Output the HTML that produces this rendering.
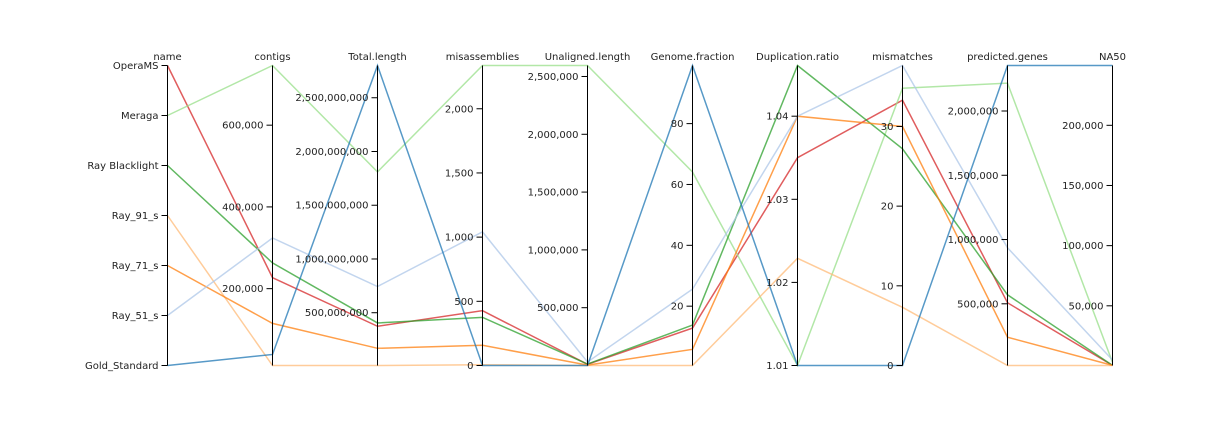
<!DOCTYPE html>
<html><head><meta charset="utf-8"><style>
body{margin:0;background:#fff;}
svg text{font-family:"DejaVu Sans","Liberation Sans",sans-serif;font-size:10px;fill:#222;}
</style></head><body>
<svg id="chart" width="1230" height="434" xmlns="http://www.w3.org/2000/svg"></svg>
<script>
const names = ["OperaMS","Meraga","Ray Blacklight","Ray_91_s","Ray_71_s","Ray_51_s","Gold_Standard"];
const dims = ["contigs","Total.length","misassemblies","Unaligned.length","Genome.fraction","Duplication.ratio","mismatches","predicted.genes","NA50"];
const contigs = [227000,746000,263000,12000,115000,324000,39000];
const totalLength = [374e6,1810e6,405e6,9e6,169e6,744e6,2800e6];
const misassemblies = [427,2337,375,6,158,1041,0];
const unaligned = [10000,2595000,12000,0,3000,30000,0];
const genomeFraction = [12.8,64.1,13.8,0.5,5.8,25.6,99.1];
const duplication = [1.035,1.01,1.0461,1.0229,1.04,1.04,1.01];
const mismatches = [33.3,34.8,27.2,7.3,30,37.65,0];
const predictedGenes = [508000,2217000,570000,20000,240000,936000,2354000];
const na50 = [500,3000,500,400,500,5000,249700];
const tickValues = {
 "contigs":[200000,400000,600000],
 "Total.length":[500e6,1000e6,1500e6,2000e6,2500e6],
 "misassemblies":[0,500,1000,1500,2000],
 "Unaligned.length":[500000,1000000,1500000,2000000,2500000],
 "Genome.fraction":[20,40,60,80],
 "Duplication.ratio":[1.01,1.02,1.03,1.04],
 "mismatches":[0,10,20,30],
 "predicted.genes":[500000,1000000,1500000,2000000],
 "NA50":[50000,100000,150000,200000]
};
const series = [contigs,totalLength,misassemblies,unaligned,genomeFraction,duplication,mismatches,predictedGenes,na50];
const colors = ["#d62728","#98df8a","#2ca02c","#ffbb78","#ff7f0e","#aec7e8","#1f77b4"];
const NS="http://www.w3.org/2000/svg";
const svgEl=document.getElementById('chart');
const x0=167.5, dx=105, yTop=65.5, yBot=365.5;
function axX(i){return x0+dx*i;}
function scaleY(arr,v){const mn=Math.min(...arr),mx=Math.max(...arr);return yBot-(v-mn)/(mx-mn)*(yBot-yTop);}
function nameY(i){return yTop+i*(yBot-yTop)/(names.length-1);}
function mk(t,a){const e=document.createElementNS(NS,t);for(const k in a)e.setAttribute(k,a[k]);svgEl.appendChild(e);return e;}
function fmt(v){return v>=1000?v.toLocaleString('en-US'):(Number.isInteger(v)?String(v):v.toFixed(2));}
names.forEach((n,r)=>{
  let pts=[[axX(0),nameY(r)]];
  series.forEach((s,j)=>pts.push([axX(j+1),scaleY(s,s[r])]));
  const p=mk('path',{d:'M'+pts.map(q=>q.join(',')).join('L'),fill:'none',stroke:colors[r],'stroke-width':1.5,'stroke-opacity':0.75});
  
  
});
const g=mk('line',{x1:x0,x2:x0,y1:yTop,y2:yBot,stroke:'#000'});


const tt=mk('text',{x:x0,y:60,'text-anchor':'middle'});tt.textContent='name';


names.forEach((n,i)=>{
  mk('line',{x1:x0-6,x2:x0,y1:nameY(i),y2:nameY(i),stroke:'#000'});
  const t=mk('text',{x:x0-9,y:nameY(i)+3.5,'text-anchor':'end'});t.textContent=n;
  
  
});
dims.forEach((d,j)=>{
  const x=axX(j+1), s=series[j];
  const l=mk('line',{x1:x,x2:x,y1:yTop,y2:yBot,stroke:'#000'});
  
  
  const t=mk('text',{x:x,y:60,'text-anchor':'middle'});t.textContent=d;
  
  
  tickValues[d].forEach(v=>{
    const y=scaleY(s,v);
    mk('line',{x1:x-6,x2:x,y1:y,y2:y,stroke:'#000'});
    const tl=mk('text',{x:x-9,y:y+3.5,'text-anchor':'end'});tl.textContent=fmt(v);
    
    
  });
});
</script>
</body></html>
